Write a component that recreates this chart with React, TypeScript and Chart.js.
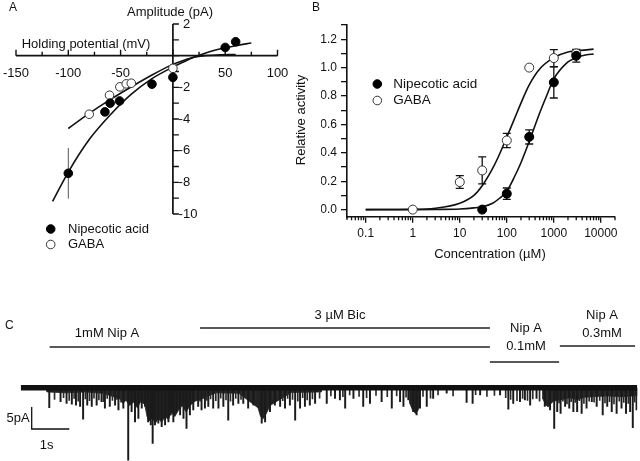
import React, { useEffect, useRef } from "react";
import { Chart, registerables } from "chart.js";

Chart.register(...registerables);

const FONT = '"Liberation Sans", Arial, Helvetica, sans-serif';
const INK = "#111";

// ---------- Panel A: amplitude vs holding potential ----------
const nipVoltage = [-100, -65, -60, -51, -20, 0, 50, 60];
const nipAmplitude = [-7.43, -3.55, -3.0, -2.86, -1.8, -1.37, 0.52, 0.88];
const nipAmplitudeErr = [1.6, 0, 0, 0, 0, 0, 0, 0];
const gabaVoltage = [-80, -60.6, -50.7, -44.6, -39.8, 0];
const gabaAmplitude = [-3.7, -2.5, -1.97, -1.78, -1.74, -0.8];
const nipFitVoltage = [-115, -100, -80, -60, -40, -20, 0, 10, 20, 30, 40, 50, 60, 75];
const nipFitAmplitude = [-9.2, -7.35, -5.3, -3.75, -2.45, -1.45, -0.72, -0.4, -0.1, 0.14, 0.34, 0.5, 0.63, 0.8];
const gabaFitVoltage = [-100, -80, -60, -40, -20, 0, 10, 20, 30, 45, 60];
const gabaFitAmplitude = [-4.6, -3.65, -2.78, -1.98, -1.22, -0.55, -0.3, -0.1, 0.0, 0.05, 0.07];
const voltageTicks = [-150, -125, -100, -75, -50, -25, 0, 25, 50, 75, 100];
const voltageLabels = ["-150", "", "-100", "", "-50", "", "", "", "50", "", "100"];
const amplitudeTicks = [2, 1, 0, -1, -2, -3, -4, -5, -6, -7, -8, -9, -10];
const amplitudeLabels = ["2", "", "", "", "-2", "", "-4", "", "-6", "", "-8", "", "-10"];

// ---------- Panel B: concentration-response ----------
const gabaConc = [1, 10, 30, 100, 300, 1000, 3000];
const gabaActivity = [0.0, 0.194, 0.276, 0.487, 1.0, 1.067, 1.1];
const gabaActivityErr = [0, 0.045, 0.095, 0.05, 0, 0.06, 0.025];
const nipConc = [30, 100, 300, 1000, 3000];
const nipActivity = [0.0, 0.112, 0.512, 0.896, 1.083];
const nipActivityErr = [0, 0.04, 0.05, 0.11, 0.045];
const gabaFitConc = [0.1, 1, 3, 10, 20, 30, 50, 70, 100, 150, 200, 300, 500, 1000, 2000, 5000, 7000];
const gabaFitActivity = [0.0, 0.002, 0.01, 0.045, 0.1, 0.168, 0.29, 0.39, 0.51, 0.65, 0.75, 0.878, 0.99, 1.07, 1.11, 1.125, 1.13];
const nipFitConc = [0.1, 1, 3, 10, 20, 30, 50, 70, 100, 150, 200, 300, 500, 700, 1000, 2000, 3000, 5000, 7000];
const nipFitActivity = [0.0, 0.0, 0.001, 0.004, 0.012, 0.02, 0.045, 0.08, 0.13, 0.24, 0.33, 0.48, 0.68, 0.8, 0.92, 1.04, 1.07, 1.09, 1.095];
const concTicks = [0.1, 1, 10, 100, 1000, 10000];
const concTickLabels = ["0.1", "1", "10", "100", "1000", "10000"];
const concMinorTicks = [0.05, 0.06, 0.07, 0.08, 0.09, 0.2, 0.3, 0.4, 0.5, 0.6, 0.7, 0.8, 0.9, 2, 3, 4, 5, 6, 7, 8, 9, 20, 30, 40, 50, 60, 70, 80, 90, 200, 300, 400, 500, 600, 700, 800, 900, 2000, 3000, 4000, 5000, 6000, 7000, 8000, 9000, 20000];
const activityTicks = [0, 0.1, 0.2, 0.3, 0.4, 0.5, 0.6, 0.7, 0.8, 0.9, 1.0, 1.1, 1.2, 1.3];
const activityTickLabels = ["0.0", "", "0.2", "", "0.4", "", "0.6", "", "0.8", "", "1.0", "", "1.2", ""];

// ---------- Panel C: single-channel trace ----------
const spikeTimes = [0.76, 1.06, 1.22, 1.36, 1.47, 1.58, 1.66, 1.77, 1.89, 2.02, 2.15, 2.24, 2.37, 2.51, 2.6, 2.73, 2.86, 2.95, 3.04, 3.13, 3.22, 3.31, 3.39, 3.46, 3.51, 3.57, 3.66, 3.75, 3.84, 3.93, 3.99, 4.06, 4.15, 4.24, 4.33, 4.41, 4.5, 4.59, 4.72, 4.81, 4.9, 4.99, 5.12, 5.26, 5.39, 5.52, 5.65, 5.79, 5.92, 6.05, 6.19, 6.41, 6.5, 6.63, 6.76, 6.9, 7.03, 7.16, 7.3, 7.43, 7.56, 7.69, 7.83, 8.14, 8.36, 8.49, 8.63, 8.85, 9.11, 9.29, 9.6, 9.87, 10.09, 10.18, 10.31, 10.44, 10.53, 10.62, 10.8, 10.97, 11.33, 11.86, 12.02, 12.22, 12.75, 12.97, 13.1, 13.28, 13.41, 13.55, 13.72, 13.94, 14.08, 14.19, 14.27, 14.36, 14.48, 14.59, 14.7, 14.8, 14.92, 15.05, 15.19, 15.32, 15.48, 15.6, 15.72, 15.85, 15.98, 16.1, 16.21, 16.28, 16.38];
const spikeAmps = [4.5, 3.1, 3.5, 3.7, 3.9, 4.2, 7.1, 3.9, 4.2, 3.9, 3.1, 4.6, 4.2, 3.9, 5.0, 4.6, 16.4, 5.4, 7.7, 6.9, 4.6, 4.2, 7.7, 8.4, 12.6, 8.4, 8.0, 8.8, 8.4, 7.7, 6.1, 7.7, 5.4, 6.1, 6.9, 9.2, 6.1, 5.0, 4.2, 5.0, 4.6, 4.2, 4.6, 4.6, 4.2, 7.3, 3.9, 3.5, 3.5, 4.6, 3.9, 8.0, 7.7, 5.4, 3.9, 4.2, 4.6, 3.9, 7.3, 4.6, 4.2, 3.9, 3.5, 3.5, 2.4, 2.7, 4.6, 2.4, 4.2, 3.5, 3.1, 4.6, 3.1, 4.2, 2.7, 5.4, 6.1, 4.6, 4.2, 2.4, 1.2, 3.3, 3.5, 1.6, 1.6, 4.8, 3.5, 3.1, 2.7, 3.9, 2.4, 4.2, 5.0, 9.2, 5.4, 5.8, 4.2, 4.6, 5.4, 5.4, 5.8, 4.6, 3.1, 4.2, 6.1, 4.2, 5.4, 5.8, 4.6, 5.8, 5.4, 9.0, 5.0];
const smallSpikeTimes = [0.9, 1.14, 1.29, 1.42, 1.53, 1.72, 1.83, 1.95, 2.08, 2.2, 2.3, 2.44, 2.56, 2.67, 2.8, 4.66, 4.77, 4.86, 4.95, 5.05, 5.19, 5.32, 5.46, 5.58, 5.72, 5.86, 5.99, 6.12, 6.25, 6.7, 6.83, 6.97, 7.1, 7.23, 7.37, 7.5, 7.62, 7.76, 7.95, 8.25, 8.57, 8.75, 9.0, 9.2, 9.45, 9.75, 10.0, 10.25, 10.7, 10.9, 11.1, 11.5, 12.1, 12.4, 12.6, 12.9, 13.03, 13.2, 13.35, 13.48, 13.62, 13.8, 14.0, 14.13, 14.32, 14.42, 14.53, 14.64, 14.75, 14.86, 14.98, 15.12, 15.25, 15.4, 15.54, 15.66, 15.78, 15.92, 16.04, 16.16, 16.33];
const smallSpikeAmps = [2.6, 2.2, 2.8, 2.4, 3.0, 2.5, 2.9, 2.3, 2.7, 3.1, 2.4, 2.8, 2.6, 3.2, 2.9, 2.6, 3.0, 2.4, 2.8, 2.5, 2.9, 2.3, 2.7, 3.0, 2.4, 2.6, 2.2, 2.8, 2.5, 2.7, 2.3, 2.9, 2.4, 2.6, 3.0, 2.2, 2.7, 2.5, 2.3, 1.8, 2.0, 1.6, 1.9, 2.2, 1.7, 2.0, 1.8, 2.1, 1.9, 2.3, 1.6, 1.8, 1.5, 1.9, 1.7, 2.2, 2.6, 2.9, 2.4, 2.8, 2.5, 3.0, 2.7, 3.2, 3.4, 3.0, 3.6, 3.1, 3.3, 2.9, 3.5, 3.0, 3.2, 2.8, 3.4, 3.1, 3.6, 3.0, 3.3, 3.5, 3.2];
// lower edge of dense-burst regions (time s, depth pA)
const burstEnvTimes = [0.7, 0.7, 1.2, 1.7, 2.2, 2.64, 2.72, 2.8, 2.9, 3.0, 3.1, 3.2, 3.3, 3.36, 3.42, 3.5, 3.58, 3.66, 3.75, 3.84, 3.93, 4.0, 4.1, 4.2, 4.3, 4.4, 4.5, 4.64, 5.2, 5.8, 6.31, 6.38, 6.45, 6.52, 6.58, 6.63, 7.2, 8.0, 8.0, 10.35, 10.35, 10.42, 10.5, 10.56, 10.62, 10.62, 13.89, 13.89, 13.96, 14.03, 14.1, 14.16, 14.4, 14.6, 14.8, 15.0, 15.2, 15.6, 16.0, 16.4, 16.4];
const burstEnvDepths = [0, 0.9, 1.1, 0.9, 1.2, 2.5, 3.5, 2.8, 4.0, 3.2, 4.5, 3.0, 3.8, 6.5, 7.5, 6.8, 8.0, 7.0, 7.8, 6.5, 7.2, 5.5, 6.5, 5.0, 4.0, 5.5, 4.0, 3.0, 1.1, 1.2, 4.5, 6.5, 7.0, 6.0, 5.0, 4.0, 1.0, 0.9, 0, 0, 3.5, 5.0, 5.8, 5.2, 4.0, 0, 0, 2.5, 3.8, 4.3, 3.6, 3.0, 2.6, 2.2, 2.7, 2.1, 2.0, 1.8, 2.0, 1.7, 0];
const drugLabels = [["1mM Nip A"], ["3 µM Bic"], ["Nip A", "0.1mM"], ["Nip A", "0.3mM"]];
const drugStart = [0.77, 4.77, 12.48, 14.34];
const drugEnd = [12.48, 12.48, 14.32, 16.34];
const traceDuration = 16.4;
const scaleBarCurrent = 5;
const scaleBarTime = 1;

Chart.defaults.font.family = FONT;

function text(ctx: CanvasRenderingContext2D, s: string, x: number, y: number, size: number, align: CanvasTextAlign = "center") {
  ctx.font = `${size}px ${FONT}`;
  ctx.fillStyle = INK;
  ctx.textAlign = align;
  ctx.textBaseline = "middle";
  ctx.fillText(s, x, y);
}

function legendMark(ctx: CanvasRenderingContext2D, x: number, y: number, filled: boolean) {
  ctx.beginPath();
  ctx.arc(x, y, 4.3, 0, Math.PI * 2);
  ctx.fillStyle = filled ? "#000" : "#fff";
  ctx.fill();
  ctx.lineWidth = 1;
  ctx.strokeStyle = filled ? "#000" : "#333";
  ctx.stroke();
}

const pts = (xs: number[], ys: number[]) => xs.map((x, i) => ({ x, y: ys[i] }));

const panelAPlugin = {
  id: "panelA",
  beforeDatasetsDraw(chart: any) {
    const { ctx } = chart;
    const x = chart.scales.x;
    const y = chart.scales.y;
    const x0 = x.getPixelForValue(0);
    const y0 = y.getPixelForValue(0);
    ctx.save();
    ctx.strokeStyle = INK;
    ctx.lineWidth = 1.7;
    ctx.beginPath();
    ctx.moveTo(x.getPixelForValue(voltageTicks[0]), y0);
    ctx.lineTo(x.getPixelForValue(voltageTicks[voltageTicks.length - 1]), y0);
    ctx.moveTo(x0, y.getPixelForValue(amplitudeTicks[0]));
    ctx.lineTo(x0, y.getPixelForValue(amplitudeTicks[amplitudeTicks.length - 1]));
    ctx.stroke();
    ctx.lineWidth = 1.4;
    ctx.beginPath();
    voltageTicks.forEach((v, i) => {
      const px = x.getPixelForValue(v);
      const len = i % 2 === 0 ? 6 : 4;
      ctx.moveTo(px, y0);
      ctx.lineTo(px, y0 - len);
    });
    amplitudeTicks.forEach((v) => {
      const py = y.getPixelForValue(v);
      ctx.moveTo(x0, py);
      ctx.lineTo(x0 + 6, py);
    });
    ctx.stroke();
    voltageTicks.forEach((v, i) => {
      if (voltageLabels[i]) text(ctx, voltageLabels[i], x.getPixelForValue(v), y0 + 18, 13);
    });
    ctx.font = `13px ${FONT}`;
    const minusW = ctx.measureText("-").width;
    amplitudeTicks.forEach((v, i) => {
      const l = amplitudeLabels[i];
      if (!l) return;
      const lx = x0 + 10 - (l.startsWith("-") ? minusW : 0);
      text(ctx, l, lx, y.getPixelForValue(v), 13, "left");
    });
    // error bars (no caps)
    ctx.strokeStyle = "#555";
    ctx.lineWidth = 1;
    ctx.beginPath();
    nipVoltage.forEach((v, i) => {
      const e = nipAmplitudeErr[i];
      if (!e) return;
      const px = x.getPixelForValue(v);
      ctx.moveTo(px, y.getPixelForValue(nipAmplitude[i] + e));
      ctx.lineTo(px, y.getPixelForValue(nipAmplitude[i] - e));
    });
    ctx.stroke();
    ctx.restore();
  },
  afterDraw(chart: any) {
    const { ctx } = chart;
    ctx.save();
    text(ctx, "A", 9, 8, 12, "left");
    text(ctx, "Amplitude (pA)", 170, 12, 13);
    text(ctx, "Holding potential (mV)", 86, 44, 13);
    legendMark(ctx, 50.7, 229, true);
    legendMark(ctx, 50.7, 244.5, false);
    text(ctx, "Nipecotic acid", 68, 229, 13, "left");
    text(ctx, "GABA", 68, 244.5, 13, "left");
    ctx.restore();
  },
};

const panelBPlugin = {
  id: "panelB",
  beforeDatasetsDraw(chart: any) {
    const { ctx } = chart;
    const x = chart.scales.x;
    const y = chart.scales.y;
    ctx.save();
    ctx.strokeStyle = INK;
    ctx.lineWidth = 1.3;
    const drawErr = (xs: number[], ys: number[], es: number[]) => {
      xs.forEach((c, i) => {
        const e = es[i];
        if (!e) return;
        const px = x.getPixelForValue(c);
        const top = y.getPixelForValue(ys[i] + e);
        const bot = y.getPixelForValue(ys[i] - e);
        ctx.beginPath();
        ctx.moveTo(px, top);
        ctx.lineTo(px, bot);
        ctx.moveTo(px - 4, top);
        ctx.lineTo(px + 4, top);
        ctx.moveTo(px - 4, bot);
        ctx.lineTo(px + 4, bot);
        ctx.stroke();
      });
    };
    drawErr(gabaConc, gabaActivity, gabaActivityErr);
    drawErr(nipConc, nipActivity, nipActivityErr);
    ctx.restore();
  },
  afterDraw(chart: any) {
    const { ctx, chartArea } = chart;
    const x = chart.scales.x;
    ctx.save();
    ctx.strokeStyle = INK;
    ctx.lineWidth = 1.3;
    ctx.beginPath();
    concMinorTicks.forEach((v) => {
      const px = x.getPixelForValue(v);
      ctx.moveTo(px, chartArea.bottom);
      ctx.lineTo(px, chartArea.bottom + 3.5);
    });
    ctx.stroke();
    ctx.lineWidth = 1.6;
    ctx.beginPath();
    ctx.moveTo(chartArea.left, chartArea.bottom);
    ctx.lineTo(chartArea.left, chartArea.bottom + 3);
    ctx.stroke();
    text(ctx, "B", 22, 7.5, 12, "left");
    text(ctx, "Concentration (µM)", 200, 254, 13);
    ctx.save();
    ctx.translate(11.7, 120);
    ctx.rotate(-Math.PI / 2);
    text(ctx, "Relative activity", 0, 0, 13);
    ctx.restore();
    legendMark(ctx, 87.3, 84, true);
    legendMark(ctx, 87.3, 100.5, false);
    text(ctx, "Nipecotic acid", 103.3, 84, 13.5, "left");
    text(ctx, "GABA", 103.3, 100.5, 13.5, "left");
    ctx.restore();
  },
};

const panelCPlugin = {
  id: "panelC",
  afterDraw(chart: any) {
    const { ctx } = chart;
    const x = chart.scales.x;
    const y = chart.scales.y;
    ctx.save();
    text(ctx, "C", 5, 26, 12, "left");
    // drug application bars: [lineY, labelX, labelY0]
    const layout = [
      [47, 107, 33],
      [28, 340, 15],
      [62, 526, 28],
      [46, 602, 15],
    ];
    ctx.strokeStyle = "#222";
    ctx.lineWidth = 1.4;
    drugLabels.forEach((lines, i) => {
      const [ly, lx, ty] = layout[i];
      ctx.beginPath();
      ctx.moveTo(x.getPixelForValue(drugStart[i]), ly);
      ctx.lineTo(x.getPixelForValue(drugEnd[i]), ly);
      ctx.stroke();
      lines.forEach((s, k) => text(ctx, s, lx, ty + k * 18, 13));
    });
    // scale bar anchored at its corner
    const cx = 31.7;
    const cy = 129;
    const h = Math.abs(y.getPixelForValue(scaleBarCurrent) - y.getPixelForValue(0));
    const w = x.getPixelForValue(scaleBarTime) - x.getPixelForValue(0);
    ctx.strokeStyle = INK;
    ctx.lineWidth = 1.3;
    ctx.beginPath();
    ctx.moveTo(cx, cy - h);
    ctx.lineTo(cx, cy);
    ctx.lineTo(cx + w, cy);
    ctx.stroke();
    text(ctx, `${scaleBarCurrent}pA`, cx - 2, cy - 11, 13, "right");
    text(ctx, `${scaleBarTime}s`, cx + 15, cy + 16, 13);
    ctx.restore();
  },
};

function configA(): any {
  return {
    type: "scatter",
    data: {
      datasets: [
        { label: "Nipecotic acid", data: pts(nipVoltage, nipAmplitude), pointRadius: 4.3, pointBackgroundColor: "#000", pointBorderColor: "#000", pointBorderWidth: 1 },
        { label: "GABA", data: pts(gabaVoltage, gabaAmplitude), pointRadius: 4.3, pointBackgroundColor: "#fff", pointBorderColor: "#333", pointBorderWidth: 1 },
        { label: "Nipecotic fit", data: pts(nipFitVoltage, nipFitAmplitude), showLine: true, pointRadius: 0, borderColor: INK, borderWidth: 1.6, cubicInterpolationMode: "monotone" },
        { label: "GABA fit", data: pts(gabaFitVoltage, gabaFitAmplitude), showLine: true, pointRadius: 0, borderColor: INK, borderWidth: 1.6, cubicInterpolationMode: "monotone" },
      ],
    },
    options: {
      responsive: false,
      animation: false,
      events: [],
      layout: { padding: { left: 16, right: 12.5, top: 24, bottom: 86 } },
      scales: {
        x: { type: "linear", display: false, min: -150, max: 100 },
        y: { type: "linear", display: false, min: -10, max: 2 },
      },
      plugins: { legend: { display: false }, tooltip: { enabled: false } },
    },
    plugins: [panelAPlugin],
  };
}

function configB(): any {
  const axisGrid = { display: true, drawOnChartArea: false, drawTicks: true, tickLength: 6, color: INK, lineWidth: 1.3 };
  const tickFont = { family: FONT, size: 12 };
  return {
    type: "scatter",
    data: {
      datasets: [
        { label: "Nipecotic acid", data: pts(nipConc, nipActivity), pointRadius: 4.5, pointBackgroundColor: "#000", pointBorderColor: "#000", pointBorderWidth: 1 },
        { label: "GABA", data: pts(gabaConc, gabaActivity), pointRadius: 4.5, pointBackgroundColor: "#fff", pointBorderColor: "#333", pointBorderWidth: 1 },
        { label: "Nipecotic fit", data: pts(nipFitConc, nipFitActivity), showLine: true, pointRadius: 0, borderColor: INK, borderWidth: 1.6, cubicInterpolationMode: "monotone" },
        { label: "GABA fit", data: pts(gabaFitConc, gabaFitActivity), showLine: true, pointRadius: 0, borderColor: INK, borderWidth: 1.6, cubicInterpolationMode: "monotone" },
      ],
    },
    options: {
      responsive: false,
      animation: false,
      events: [],
      layout: { padding: { left: 31, right: 25, top: 25, bottom: 53.3 } },
      scales: {
        x: {
          type: "logarithmic",
          min: 0.04,
          max: 20000,
          afterBuildTicks: (s: any) => {
            s.ticks = concTicks.map((v) => ({ value: v, major: true }));
          },
          afterFit: (s: any) => {
            s.height = 30;
          },
          grid: axisGrid,
          border: { display: true, color: INK, width: 1.6 },
          ticks: { autoSkip: false, maxRotation: 0, minRotation: 0, padding: 4, color: INK, font: tickFont, callback: (_v: any, i: number) => concTickLabels[i] },
        },
        y: {
          type: "linear",
          min: -0.05,
          max: 1.3,
          afterBuildTicks: (s: any) => {
            s.ticks = activityTicks.map((v) => ({ value: v }));
          },
          afterFit: (s: any) => {
            s.width = 26;
          },
          grid: axisGrid,
          border: { display: true, color: INK, width: 1.6 },
          ticks: { autoSkip: false, padding: 4, color: INK, font: tickFont, callback: (_v: any, i: number) => activityTickLabels[i] },
        },
      },
      plugins: { legend: { display: false }, tooltip: { enabled: false } },
    },
    plugins: [panelBPlugin],
  };
}

function configC(): any {
  const bars = (ts: number[], as: number[]) => ts.map((t, i) => ({ x: t, y: [0, -as[i]] }));
  return {
    type: "bar",
    data: {
      datasets: [
        { type: "line", label: "baseline", data: [{ x: 0, y: 0.05 }, { x: traceDuration, y: 0.05 }], borderColor: "#111", borderWidth: 5.5, pointRadius: 0 },
        { type: "bar", label: "openings", data: bars(spikeTimes, spikeAmps), backgroundColor: "#1a1a1a", barThickness: 1.3, grouped: false },
        { type: "bar", label: "brief openings", data: bars(smallSpikeTimes, smallSpikeAmps), backgroundColor: "#2a2a2a", barThickness: 1, grouped: false },
        { type: "line", label: "bursts", data: pts(burstEnvTimes, burstEnvDepths.map((d) => -d)), borderColor: "#222", borderWidth: 0.8, backgroundColor: "#222", fill: "origin", pointRadius: 0, tension: 0 },
      ],
    },
    options: {
      responsive: false,
      animation: false,
      events: [],
      layout: { padding: { left: 20.7, right: 2.7, top: 78, bottom: 0 } },
      scales: {
        x: { type: "linear", display: false, min: 0, max: traceDuration, offset: false },
        y: { type: "linear", display: false, min: -16.6, max: 2.27 },
      },
      plugins: { legend: { display: false }, tooltip: { enabled: false } },
    },
    plugins: [panelCPlugin],
  };
}

export default function App() {
  const aRef = useRef<HTMLCanvasElement>(null);
  const bRef = useRef<HTMLCanvasElement>(null);
  const cRef = useRef<HTMLCanvasElement>(null);
  useEffect(() => {
    const charts = [
      new Chart(aRef.current as HTMLCanvasElement, configA()),
      new Chart(bRef.current as HTMLCanvasElement, configB()),
      new Chart(cRef.current as HTMLCanvasElement, configC()),
    ];
    return () => charts.forEach((c) => c.destroy());
  }, []);
  const abs = (l: number, t: number, w: number, h: number): React.CSSProperties => ({ position: "absolute", left: l, top: t, width: w, height: h, display: "block" });
  return (
    <div style={{ position: "fixed", left: 0, top: 0, width: 640, height: 461, background: "#fff", overflow: "hidden" }}>
      <canvas ref={aRef} width={290} height={300} style={abs(0, 0, 290, 300)} />
      <canvas ref={bRef} width={350} height={300} style={abs(290, 0, 350, 300)} />
      <canvas ref={cRef} width={640} height={161} style={abs(0, 300, 640, 161)} />
    </div>
  );
}
